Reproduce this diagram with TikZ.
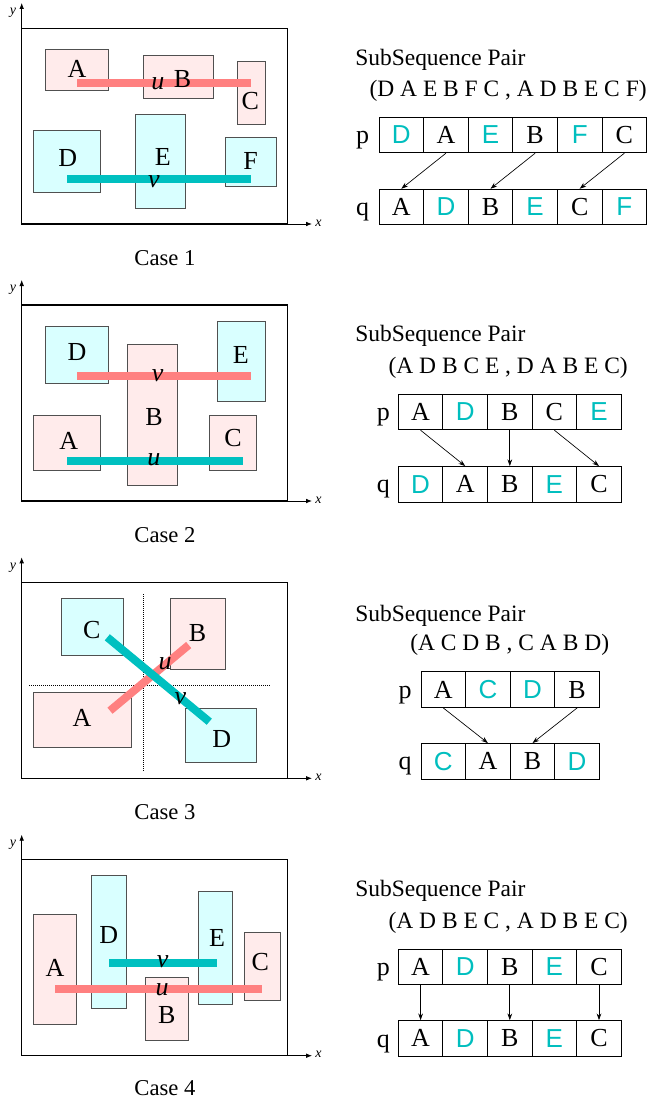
\documentclass[tikz,border=0pt]{standalone}
\usepackage{fontspec}
\setmainfont{Liberation Serif}
\newfontfamily\sansf{Liberation Sans}
\usetikzlibrary{arrows.meta}
\definecolor{pinkfill}{RGB}{255,235,235}
\definecolor{cyanfill}{RGB}{217,255,255}
\definecolor{redbar}{RGB}{255,128,128}
\definecolor{cyanbar}{RGB}{0,192,192}
\definecolor{cyantext}{RGB}{0,190,190}
\definecolor{boxedge}{RGB}{80,80,80}
\newcommand\cyl[1]{{\sansf\textcolor{cyantext}{#1}}}
\newcommand\caseframe[4]{% #1 axis y, #2 frame top, #3 number, #4 caption y
  \draw[frame] (21.7,#2) rectangle (287.3,#1);
  \draw[axisline] (21.7,#1) -- (21.7,#1-221);
  \draw[axisline] (21.7,#1) -- (312,#1);
  \node[axlab] (ylab#3) at (13,#1-211) {y};
  \node[axlab] (xlab#3) at (318.5,#1-1) {x};
  \node[captext] (cap#3) at (165,#4) {Case #3};
}
\newcommand\seqrow[4]{% name, x0, y center, list
  \foreach \l [count=\i] in {#4} {
    \node[cell] (#1-\i) at ({#2+(\i-0.5)*44.6},#3) {\l};
  }
}
\begin{document}
\begin{tikzpicture}[x=0.75pt,y=-0.75pt,
  pbox/.style={draw=boxedge,fill=pinkfill,line width=0.7pt},
  cbox/.style={draw=boxedge,fill=cyanfill,line width=0.7pt},
  frame/.style={draw=black,line width=0.8pt},
  axisline/.style={line width=0.6pt,-{Latex[length=4.5pt,width=3.5pt]}},
  axlab/.style={font=\fontsize{10.5}{11}\selectfont\itshape,inner sep=0pt},
  ubar/.style={line width=6pt,redbar},
  vbar/.style={line width=6pt,cyanbar},
  blet/.style={font=\fontsize{19.5}{20}\selectfont,inner sep=0pt},
  ilet/.style={font=\fontsize{19.5}{20}\selectfont\itshape,inner sep=0pt},
  captext/.style={font=\fontsize{17}{18}\selectfont,inner sep=0pt},
  head/.style={font=\fontsize{17.6}{18}\selectfont,inner sep=0pt,anchor=base west},
  cell/.style={draw,line width=0.75pt,minimum width=33.45pt,minimum height=26.6pt,inner sep=0pt,font=\fontsize{19.5}{20}\selectfont},
  arr/.style={line width=0.5pt,-{Stealth[length=5pt,width=3.5pt]}},
  dotl/.style={line width=0.5pt,dash pattern=on 0.75pt off 0.75pt},
]
\useasboundingbox (0,0) rectangle (650,1099);

% ===== Case 1 =====
\caseframe{224}{28.3}{1}{258}
\draw[pbox] (45.3,49.3) rectangle (108.3,90.7);
\draw[pbox] (143.3,55.3) rectangle (213.3,98.7);
\draw[pbox] (237.3,61.7) rectangle (265.3,124);
\draw[cbox] (33.3,130) rectangle (100,192.7);
\draw[cbox] (135.3,114.3) rectangle (185.7,208.3);
\draw[cbox] (225,137.7) rectangle (276,186.7);
\draw[ubar] (77.3,82.7) -- (250.7,82.7);
\draw[vbar] (67.3,178.7) -- (250.7,178.7);
\node[blet] (a1) at (77,68.7) {A};
\node[blet] (b1) at (182.5,78.7) {B};
\node[blet] (c1) at (250.3,101) {C};
\node[blet] (d1) at (67.8,158.3) {D};
\node[blet] (e1) at (162.8,157.3) {E};
\node[blet] (f1) at (250.5,160.8) {F};
\node[ilet] (u1) at (157.8,83.7) {u};
\node[ilet] (v1) at (154,181.2) {v};

\node[head] (h1) at (355,66) {SubSequence Pair};
\node[head] (s1) at (369.3,96.7) {(D A E B F C , A D B E C F)};
\seqrow{p1}{379}{135}{\cyl{D},A,\cyl{E},B,\cyl{F},C}
\seqrow{q1}{379}{207}{A,\cyl{D},B,\cyl{E},C,\cyl{F}}
\node[blet,anchor=base] (pl1) at (362.7,143.6) {p};
\node[blet,anchor=base] (ql1) at (362.7,215.6) {q};
\draw[arr] (p1-2.south) -- (q1-1.north);
\draw[arr] (p1-4.south) -- (q1-3.north);
\draw[arr] (p1-6.south) -- (q1-5.north);

% ===== Case 2 =====
\caseframe{501}{305}{2}{535}
\draw[cbox] (45.3,326.7) rectangle (108.3,383.7);
\draw[pbox] (127.7,344.3) rectangle (177.7,485.7);
\draw[cbox] (217,321) rectangle (265.7,401.3);
\draw[pbox] (33.3,415) rectangle (100.3,470);
\draw[pbox] (209,415) rectangle (256.3,470);
\draw[ubar] (77.3,376) -- (250.7,376);
\draw[vbar] (67.3,461.3) -- (242.7,461.3);
\node[blet] (d2) at (77,352.5) {D};
\node[blet] (e2) at (240.7,355.3) {E};
\node[blet] (b2) at (154,417) {B};
\node[blet] (a2) at (68.8,440.5) {A};
\node[blet] (c2) at (233,438) {C};
\node[ilet] (v2) at (157.7,376) {v};
\node[ilet] (u2) at (153.8,460) {u};

\node[head] (h2) at (355,341.7) {SubSequence Pair};
\node[head] (s2) at (388.3,373.3) {(A D B C E , D A B E C)};
\seqrow{p2}{398.3}{412}{A,\cyl{D},B,C,\cyl{E}}
\seqrow{q2}{398.3}{484.3}{\cyl{D},A,B,\cyl{E},C}
\node[blet,anchor=base] (pl2) at (383.3,420.6) {p};
\node[blet,anchor=base] (ql2) at (383.3,492.9) {q};
\draw[arr] (p2-1.south) -- (q2-2.north);
\draw[arr] (p2-3.south) -- (q2-3.north);
\draw[arr] (p2-4.south) -- (q2-5.north);

% ===== Case 3 =====
\caseframe{778.3}{582.7}{3}{812}
\draw[cbox] (61,598.3) rectangle (123.7,655.3);
\draw[pbox] (170.3,598.3) rectangle (225,669);
\draw[pbox] (33.3,692.7) rectangle (131.3,747);
\draw[cbox] (185.7,708) rectangle (256.3,762.7);
\draw[dotl] (143.3,594.3) -- (143.3,770.7);
\draw[dotl] (29.3,685) -- (270.7,685);
\draw[ubar] (110,710.7) -- (188.7,645);
\draw[vbar] (107.3,637.3) -- (209.3,721.7);
\node[blet] (c3) at (91.7,630.3) {C};
\node[blet] (b3) at (197.5,632.8) {B};
\node[blet] (a3) at (82,717.5) {A};
\node[blet] (d3) at (221.7,739) {D};
\node[ilet] (u3) at (165,664) {u};
\node[ilet] (v3) at (180.5,699) {v};

\node[head] (h3) at (355,621) {SubSequence Pair};
\node[head] (s3) at (410,650) {(A C D B , C A B D)};
\seqrow{p3}{421}{689.7}{A,\cyl{C},\cyl{D},B}
\seqrow{q3}{421}{761.3}{\cyl{C},A,B,\cyl{D}}
\node[blet,anchor=base] (pl3) at (405,698.3) {p};
\node[blet,anchor=base] (ql3) at (405,769.9) {q};
\draw[arr] (p3-1.south) -- (q3-2.north);
\draw[arr] (p3-4.south) -- (q3-3.north);

% ===== Case 4 =====
\caseframe{1055.7}{859.7}{4}{1088}
\draw[pbox] (33.3,914.7) rectangle (76.7,1024.3);
\draw[cbox] (91.7,875.7) rectangle (126.7,1008.3);
\draw[pbox] (145.7,977.7) rectangle (188.7,1040);
\draw[cbox] (198.7,891.3) rectangle (232.7,1004.3);
\draw[pbox] (244.3,932.3) rectangle (280,1000.3);
\draw[vbar] (109,962.7) -- (217.3,962.7);
\draw[ubar] (55,989) -- (262,989);
\node[blet] (a4) at (55,968) {A};
\node[blet] (d4) at (108.7,935) {D};
\node[blet] (e4) at (217,937.5) {E};
\node[blet] (c4) at (260.3,962) {C};
\node[blet] (b4) at (166.7,1015.3) {B};
\node[ilet] (v4) at (162.7,961.7) {v};
\node[ilet] (u4) at (162.2,989.3) {u};

\node[head] (h4) at (355,896.7) {SubSequence Pair};
\node[head] (s4) at (388.3,928.3) {(A D B E C , A D B E C)};
\seqrow{p4}{398.3}{967}{A,\cyl{D},B,\cyl{E},C}
\seqrow{q4}{398.3}{1038.4}{A,\cyl{D},B,\cyl{E},C}
\node[blet,anchor=base] (pl4) at (383.3,975.6) {p};
\node[blet,anchor=base] (ql4) at (383.3,1047) {q};
\draw[arr] (p4-1.south) -- (q4-1.north);
\draw[arr] (p4-3.south) -- (q4-3.north);
\draw[arr] (p4-5.south) -- (q4-5.north);
\end{tikzpicture}
\end{document}
